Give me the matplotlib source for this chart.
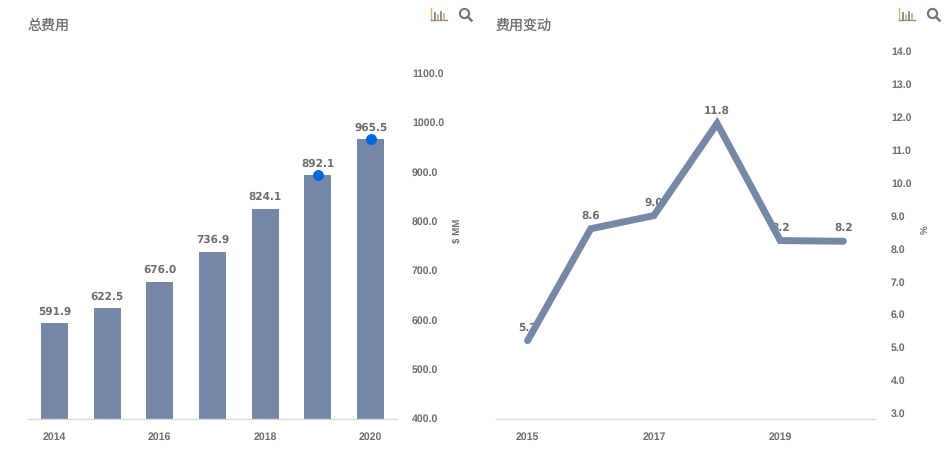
import matplotlib
matplotlib.use('Agg')
import matplotlib.pyplot as plt
from matplotlib.patches import Circle
from matplotlib.lines import Line2D

plt.rcParams['text.hinting'] = 'none'

W = 951
H = 453

years_left = ['2014', '2015', '2016', '2017', '2018', '2019', '2020']
total_cost = [591.9, 622.5, 676.0, 736.9, 824.1, 892.1, 965.5]
dot_years = [5, 6]
left_ticks = [400, 500, 600, 700, 800, 900, 1000, 1100]

years_right = ['2015', '2016', '2017', '2018', '2019', '2020']
cost_change = [5.2, 8.6, 9.0, 11.8, 8.24, 8.22]
right_ticks = [3, 4, 5, 6, 7, 8, 9, 10, 11, 12, 13, 14]

BAR = '#7688a6'
DOT = '#0069d9'
TEXT = '#6e6e6e'
TITLE = '#6b6b6b'
AXIS = '#d9d9d9'
BOLD = ['Liberation Sans', 'DejaVu Sans']
LABEL = ['DejaVu Sans']
CJK = ['Noto Sans CJK SC', 'DejaVu Sans']


def px_axes(fig, left, top, right, bottom):
    ax = fig.add_axes([left / W, 1 - bottom / H, (right - left) / W, (bottom - top) / H])
    for side in ['top', 'left', 'right']:
        ax.spines[side].set_visible(False)
    ax.spines['bottom'].set_color(AXIS)
    ax.spines['bottom'].set_linewidth(1)
    ax.yaxis.tick_right()
    ax.tick_params(length=0)
    ax.patch.set_alpha(0)
    return ax


def style_ticks(ax, x_pad, y_pad):
    ax.tick_params(axis='x', pad=x_pad)
    ax.tick_params(axis='y', pad=y_pad)
    for t in ax.get_xticklabels() + ax.get_yticklabels():
        t.set_family(BOLD)
        t.set_fontweight('bold')
        t.set_fontsize(7.6)
        t.set_color(TEXT)


def draw_icons(fig, x0):
    # little chart + magnifier icons of the toolbar
    to_fig = lambda x, y: (x / W, 1 - y / H)
    ys = [[13, 19.5], [15, 19.5], [12, 19.5], [14, 19.5]]
    a = to_fig(x0, 8)
    b = to_fig(x0, 20)
    c = to_fig(x0 + 16, 20)
    fig.add_artist(Line2D([a[0], b[0]], [a[1], b[1]], color='#d8b26e', lw=1))
    fig.add_artist(Line2D([b[0], c[0]], [b[1], c[1]], color='#8a8a8a', lw=1))
    for i, (y1, y2) in enumerate(ys):
        p = to_fig(x0 + 3.5 + i * 3, y1)
        q = to_fig(x0 + 3.5 + i * 3, y2)
        col = '#d8b26e' if i % 2 else '#7688a6'
        fig.add_artist(Line2D([p[0], q[0]], [p[1], q[1]], color=col, lw=1.3))
    cx = x0 + 33.5
    cy = 13.5
    fig.add_artist(Circle((cx, H - cy), 4.6, transform=None, fill=False, ec='#6f7680', lw=1.5))
    p = to_fig(cx + 3.4, cy + 3.4)
    q = to_fig(cx + 7, cy + 7)
    fig.add_artist(Line2D([p[0], q[0]], [p[1], q[1]], color='#6f7680', lw=1.8))


fig = plt.figure(figsize=(W / 100, H / 100), dpi=100)

# left panel
ax1 = px_axes(fig, 28, 73, 397, 419)
pos1 = list(range(len(years_left)))
ax1.bar(pos1, total_cost, width=0.51, color=BAR, zorder=2)
ax1.scatter([pos1[i] for i in dot_years], [total_cost[i] for i in dot_years],
            s=62, color=DOT, linewidths=0, zorder=4)
for x, v in zip(pos1, total_cost):
    ax1.annotate('%.1f' % v, (x, v), xytext=(0, 8.6), textcoords='offset points', ha='center', va='center',
                 family=LABEL, fontweight='bold', fontsize=7.6, color=TEXT, zorder=3)
ax1.set_xlim(-0.5, 6.5)
ax1.set_ylim(398, 1100)
ax1.set_xticks(pos1[::2])
ax1.set_xticklabels(years_left[::2])
ax1.set_yticks(left_ticks)
ax1.set_yticklabels(['%.1f' % v for v in left_ticks])
style_ticks(ax1, 9, 10.8)

# right panel
ax2 = px_axes(fig, 496, 51, 875, 419)
pos2 = list(range(len(years_right)))
for x, v in zip(pos2, cost_change):
    ax2.annotate('%.1f' % v, (x, v), xytext=(0, 9.4), textcoords='offset points', ha='center', va='center',
                 family=LABEL, fontweight='bold', fontsize=7.6, color=TEXT, zorder=2)
ax2.plot(pos2, cost_change, color=BAR, lw=5, solid_capstyle='round', solid_joinstyle='miter', zorder=3)
ax2.set_xlim(-0.5, 5.5)
ax2.set_ylim(2.82, 14)
ax2.set_xticks(pos2[::2])
ax2.set_xticklabels(years_right[::2])
ax2.set_yticks(right_ticks)
ax2.set_yticklabels(['%.1f' % v for v in right_ticks])
style_ticks(ax2, 9, 11.5)

fig.text(28 / W, 1 - 26 / H, '总费用', family=CJK, fontsize=10.1, color=TITLE, va='center')
fig.text(496 / W, 1 - 26 / H, '费用变动', family=CJK, fontsize=10.1, color=TITLE, va='center')
fig.text(458 / W, 1 - 231 / H, '$ MM', family=BOLD, fontweight='bold', fontsize=7, color=TEXT,
         rotation=90, ha='center', va='center')
fig.text(926 / W, 1 - 230 / H, '%', family=BOLD, fontweight='bold', fontsize=7, color=TEXT,
         rotation=90, ha='center', va='center')

draw_icons(fig, 431)
draw_icons(fig, 899)

fig.savefig('out.png', dpi=100)
